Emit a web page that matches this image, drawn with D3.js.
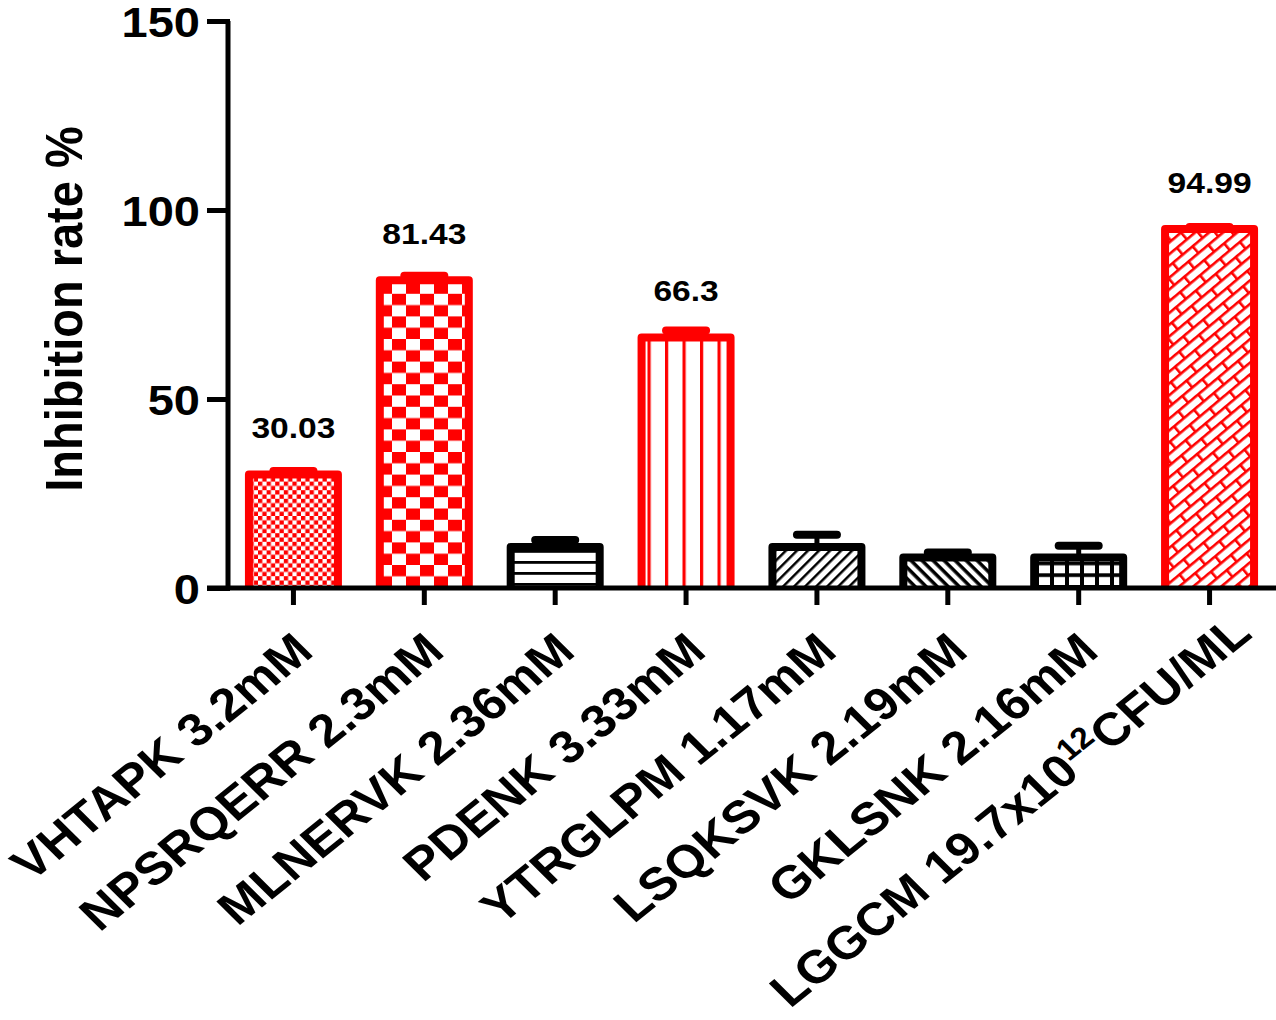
<!DOCTYPE html>
<html>
<head>
<meta charset="utf-8">
<script src="https://cdn.jsdelivr.net/npm/d3@7"></script>
<style>
  body { margin: 0; background: #fff; }
  svg { display: block; }
  text { font-family: "Liberation Sans", Arial, Helvetica, sans-serif; font-weight: bold; fill: #000; }
</style>
</head>
<body>
<svg id="chart" width="1276" height="1020"></svg>
<script>
// Peptide samples (the "^" marks a superscript exponent in the label)
const categories = [
  "VHTAPK 3.2mM",
  "NPSRQERR 2.3mM",
  "MLNERVK 2.36mM",
  "PDENK 3.33mM",
  "YTRGLPM 1.17mM",
  "LSQKSVK 2.19mM",
  "GKLSNK 2.16mM",
  "LGGCM 19.7x10^12CFU/ML"
];
// Mean inhibition rate (%) and its error
const values = [30.03, 81.43, 10.85, 66.3, 10.85, 8.1, 8.1, 94.99];
const errors = [0.9, 1.2, 1.85, 1.8, 3.25, 1.3, 3.1, 0.5];
// Value annotations printed above some bars
const valueLabels = ["30.03", "81.43", "", "66.3", "", "", "", "94.99"];
const yTicks = [0, 50, 100, 150];
const yTitle = "Inhibition rate %";

// ---- appearance ----
const W = 1276, H = 1020;
const RED = "#ff0000", BLACK = "#000000";
const fills = [
  { id: "fineChecker", color: RED },
  { id: "bigChecker", color: RED },
  { id: "hLines", color: BLACK },
  { id: "vLines", color: RED },
  { id: "fwdHatch", color: BLACK },
  { id: "backHatch", color: BLACK },
  { id: "grid", color: BLACK },
  { id: "bricks", color: RED }
];

const svg = d3.select("#chart");
const x = d3.scaleBand().domain(categories).range([228, 1275]).padding(0);
const y = d3.scaleLinear().domain([0, 150]).range([588, 21]);
const barW = x.bandwidth() * 0.68;
const cx = d => x(d) + x.bandwidth() / 2;
const TXT_SX = 1.12; // glyphs are drawn slightly wide

// ---- fill patterns ----
const defs = svg.append("defs");
function pattern(id, w, h, transform) {
  const p = defs.append("pattern").attr("id", id)
    .attr("patternUnits", "userSpaceOnUse").attr("width", w).attr("height", h);
  if (transform) p.attr("patternTransform", transform);
  p.append("rect").attr("width", w).attr("height", h).attr("fill", "#fff");
  return p;
}
{
  const p = pattern("fineChecker", 8.6, 8.6);
  p.append("rect").attr("width", 4.3).attr("height", 4.3).attr("fill", RED);
  p.append("rect").attr("x", 4.3).attr("y", 4.3).attr("width", 4.3).attr("height", 4.3).attr("fill", RED);
}
{
  const p = pattern("bigChecker", 28, 22.6);
  p.append("rect").attr("width", 14).attr("height", 11.3).attr("fill", RED);
  p.append("rect").attr("x", 14).attr("y", 11.3).attr("width", 14).attr("height", 11.3).attr("fill", RED);
}
{
  const p = pattern("hLines", 10, 11);
  p.append("rect").attr("y", 0).attr("width", 10).attr("height", 2.8).attr("fill", BLACK);
}
{
  const p = pattern("vLines", 17.5, 10);
  p.append("rect").attr("x", 0).attr("width", 3.2).attr("height", 10).attr("fill", RED);
}
{
  const p = pattern("fwdHatch", 10, 7.8, "rotate(-45)");
  p.append("rect").attr("width", 10).attr("height", 2.5).attr("fill", BLACK);
}
{
  const p = pattern("backHatch", 10, 7.8, "rotate(45)");
  p.append("rect").attr("width", 10).attr("height", 3.5).attr("fill", BLACK);
}
{
  const p = pattern("grid", 15, 11.7);
  p.append("rect").attr("width", 4).attr("height", 11.7).attr("fill", BLACK);
  p.append("rect").attr("width", 15).attr("height", 3.7).attr("fill", BLACK);
}
{
  const p = pattern("bricks", 26, 18, "rotate(-40)");
  p.append("rect").attr("width", 26).attr("height", 2.6).attr("fill", RED);
  p.append("rect").attr("y", 9).attr("width", 26).attr("height", 2.6).attr("fill", RED);
  p.append("rect").attr("x", 0).attr("width", 2.6).attr("height", 9).attr("fill", RED);
  p.append("rect").attr("x", 13).attr("y", 9).attr("width", 2.6).attr("height", 9).attr("fill", RED);
}

// ---- bars ----
const bars = svg.append("g").selectAll("g").data(categories).join("g");
bars.append("path")
  .attr("d", (d, i) => {
    const x0 = cx(d) - barW / 2, x1 = cx(d) + barW / 2;
    return `M${x0},${y(0)}L${x0},${y(values[i])}L${x1},${y(values[i])}L${x1},${y(0)}`;
  })
  .attr("fill", (d, i) => `url(#${fills[i].id})`)
  .attr("stroke", (d, i) => fills[i].color)
  .attr("stroke-width", 8)
  .attr("stroke-linejoin", "round");

// error bars (upper half only)
bars.append("line")
  .attr("x1", d => cx(d)).attr("x2", d => cx(d))
  .attr("y1", (d, i) => y(values[i])).attr("y2", (d, i) => y(values[i] + errors[i]))
  .attr("stroke", (d, i) => fills[i].color).attr("stroke-width", 5);
bars.append("line")
  .attr("x1", d => cx(d) - 20).attr("x2", d => cx(d) + 20)
  .attr("y1", (d, i) => y(values[i] + errors[i])).attr("y2", (d, i) => y(values[i] + errors[i]))
  .attr("stroke", (d, i) => fills[i].color).attr("stroke-width", 8)
  .attr("stroke-linecap", "round");

// value labels
bars.filter((d, i) => valueLabels[i] !== "")
  .append("text")
  .attr("transform", d => `translate(${cx(d)},${y(values[categories.indexOf(d)]) - 36}) scale(${TXT_SX},1)`)
  .attr("text-anchor", "middle")
  .attr("font-size", 30)
  .text(d => valueLabels[categories.indexOf(d)]);

// ---- axes ----
const yAxis = d3.axisLeft(y).tickValues(yTicks).tickSize(21).tickPadding(8).tickFormat(d3.format("d"));
const gy = svg.append("g").attr("transform", "translate(228,0)").call(yAxis);
gy.select(".domain").attr("d", `M0,${y(150)}V${y(0)}`).attr("stroke", BLACK).attr("stroke-width", 5);
gy.selectAll(".tick line").attr("stroke", BLACK).attr("stroke-width", 5).attr("x1", 2);
gy.selectAll(".tick text").remove();
gy.selectAll(".tick").append("text")
  .attr("transform", `translate(-28,0) scale(${TXT_SX},1)`)
  .attr("text-anchor", "end").attr("dy", "0.36em")
  .attr("font-size", 42)
  .text(d => d3.format("d")(d));

const xAxis = d3.axisBottom(x).tickSize(17).tickFormat("");
const gx = svg.append("g").attr("transform", `translate(0,${y(0)})`).call(xAxis);
gx.select(".domain").attr("d", `M207,0H${W}`).attr("stroke", BLACK).attr("stroke-width", 5);
gx.selectAll(".tick line").attr("stroke", BLACK).attr("stroke-width", 5);

// rotated category labels, end-anchored just below each tick
const ANG = 42;
const labelPos = d => [cx(d) + 22, y(0) + 66];
const xl = svg.append("g").selectAll("text").data(categories).join("text")
  .attr("transform", d => { const [px, py] = labelPos(d); return `translate(${px},${py}) scale(${TXT_SX},1) rotate(-${ANG})`; })
  .attr("text-anchor", "end")
  .attr("font-size", 46);
xl.each(function (d) {
  const t = d3.select(this);
  const parts = d.split(/\^(\d+)/);
  parts.forEach((s, k) => {
    if (k % 2 === 1) {
      t.append("tspan").attr("font-size", 30).attr("dy", -17).text(s);
    } else if (k > 0) {
      t.append("tspan").attr("dy", 17).text(s);
    } else {
      t.append("tspan").text(s);
    }
  });
});
// slide any label that would run past the bottom edge back along its own direction
const dirX = Math.cos(ANG * Math.PI / 180) * TXT_SX, dirY = Math.sin(ANG * Math.PI / 180);
xl.each(function (d) {
  const r = this.getBoundingClientRect();
  const over = r.bottom - (H - 4);
  if (over > 0) {
    const t = over / dirY;
    const [px, py] = labelPos(d);
    d3.select(this).attr("transform",
      `translate(${px + t * dirX},${py - over}) scale(${TXT_SX},1) rotate(-${ANG})`);
  }
});

// y-axis title
svg.append("text")
  .attr("transform", `translate(82,309) scale(${TXT_SX},1) rotate(-90)`)
  .attr("text-anchor", "middle")
  .attr("font-size", 47)
  .text(yTitle);
</script>
</body>
</html>
